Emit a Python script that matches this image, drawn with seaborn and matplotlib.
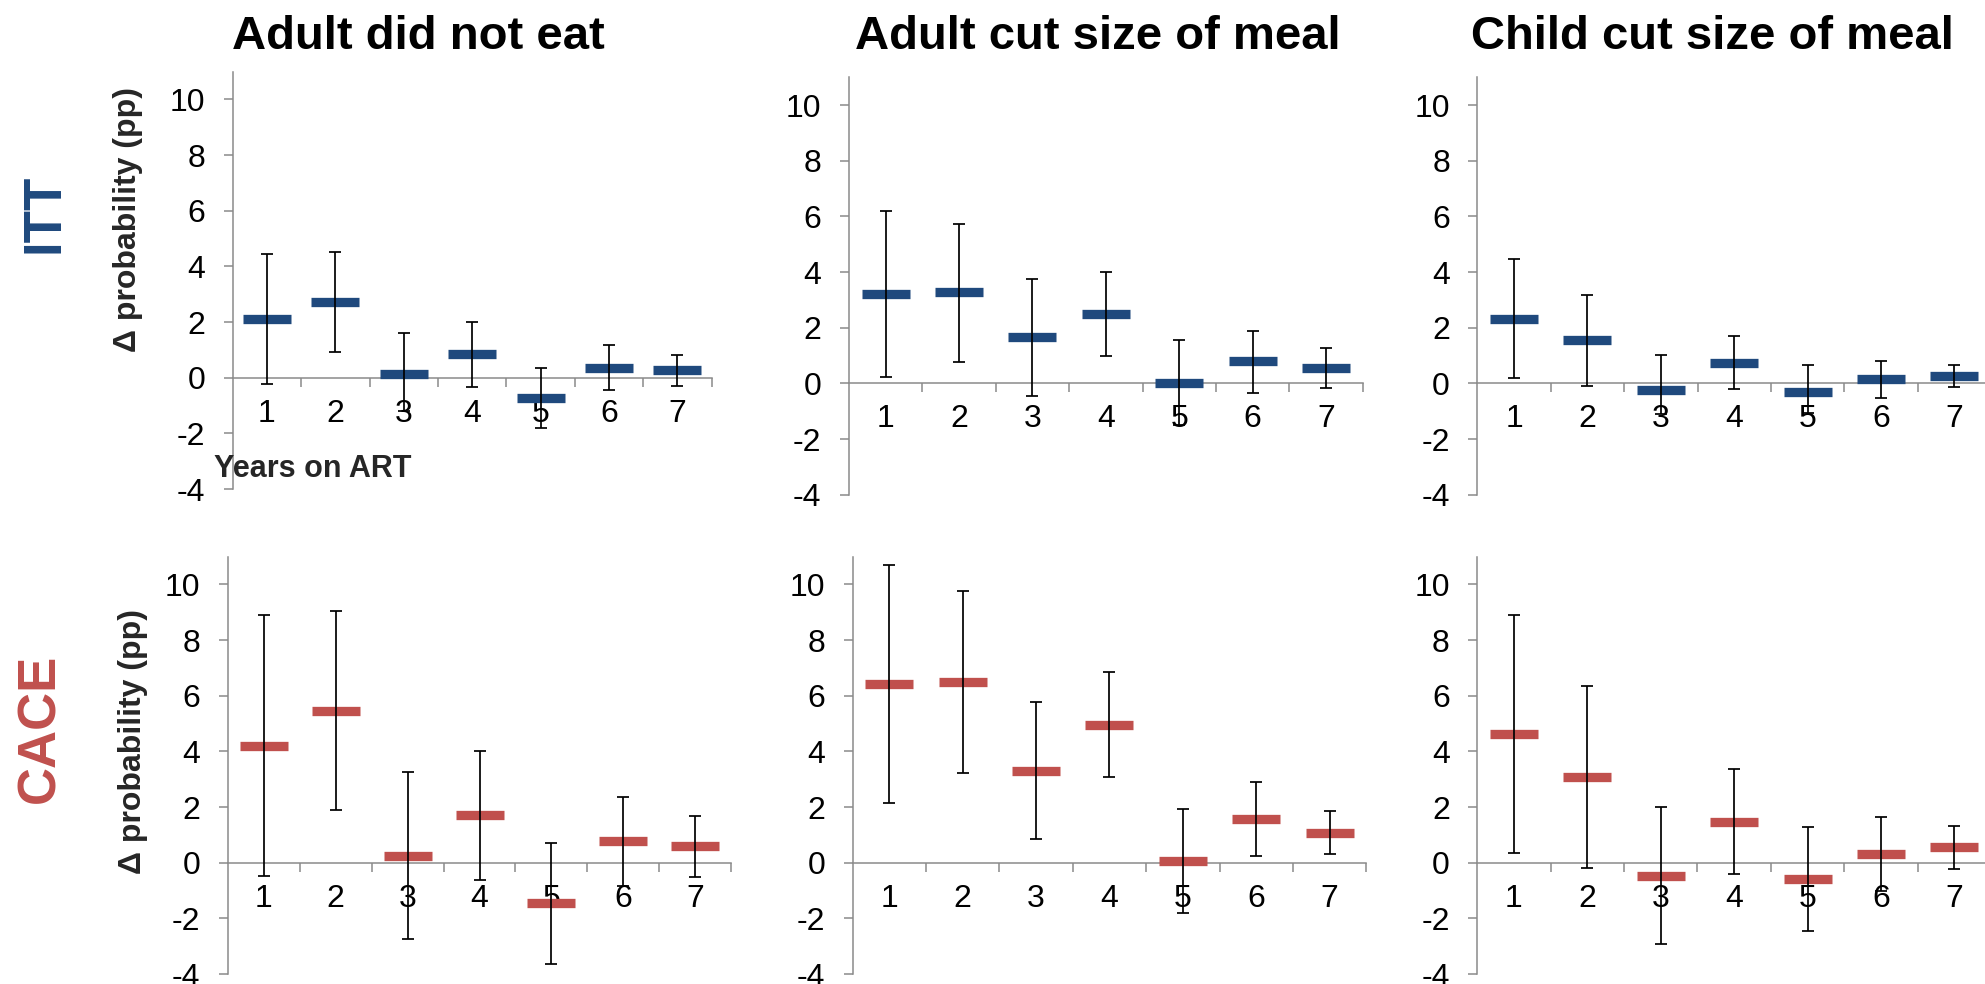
import numpy as np
import pandas as pd
import matplotlib
matplotlib.use("Agg")
import matplotlib.pyplot as plt
import seaborn as sns

# ---------------------------------------------------------------- data
years = [1, 2, 3, 4, 5, 6, 7]
outcomes = ["Adult did not eat", "Adult cut size of meal", "Child cut size of meal"]
estimators = ["ITT", "CACE"]
yticks = [-4, -2, 0, 2, 4, 6, 8, 10]

# ITT estimates (percentage points) with 95% CI bounds
itt_not_eat_mean = [2.12, 2.73, 0.14, 0.86, -0.72, 0.36, 0.29]
itt_not_eat_lo = [-0.24, 0.93, -1.20, -0.32, -1.80, -0.44, -0.31]
itt_not_eat_hi = [4.46, 4.51, 1.62, 1.99, 0.36, 1.16, 0.81]

itt_adult_cut_mean = [3.21, 3.28, 1.68, 2.50, 0.02, 0.81, 0.57]
itt_adult_cut_lo = [0.23, 0.77, -0.44, 1.00, -1.50, -0.35, -0.16]
itt_adult_cut_hi = [6.20, 5.72, 3.75, 4.00, 1.57, 1.89, 1.26]

itt_child_cut_mean = [2.32, 1.56, -0.23, 0.74, -0.30, 0.17, 0.28]
itt_child_cut_lo = [0.18, -0.10, -1.10, -0.22, -1.05, -0.51, -0.12]
itt_child_cut_hi = [4.47, 3.17, 1.02, 1.69, 0.66, 0.81, 0.66]

# CACE estimates (percentage points) with 95% CI bounds
cace_not_eat_mean = [4.20, 5.46, 0.25, 1.71, -1.45, 0.77, 0.59]
cace_not_eat_lo = [-0.47, 1.90, -2.74, -0.61, -3.65, -0.83, -0.53]
cace_not_eat_hi = [8.90, 9.03, 3.26, 4.01, 0.72, 2.35, 1.69]

cace_adult_cut_mean = [6.42, 6.50, 3.30, 4.95, 0.07, 1.56, 1.08]
cace_adult_cut_lo = [2.14, 3.23, 0.84, 3.09, -1.82, 0.24, 0.30]
cace_adult_cut_hi = [10.70, 9.76, 5.77, 6.85, 1.93, 2.90, 1.87]

cace_child_cut_mean = [4.62, 3.08, -0.48, 1.46, -0.59, 0.31, 0.56]
cace_child_cut_lo = [0.36, -0.20, -2.93, -0.42, -2.44, -1.00, -0.24]
cace_child_cut_hi = [8.90, 6.35, 2.01, 3.37, 1.28, 1.65, 1.32]

panels = {
    ("ITT", 0): (itt_not_eat_mean, itt_not_eat_lo, itt_not_eat_hi),
    ("ITT", 1): (itt_adult_cut_mean, itt_adult_cut_lo, itt_adult_cut_hi),
    ("ITT", 2): (itt_child_cut_mean, itt_child_cut_lo, itt_child_cut_hi),
    ("CACE", 0): (cace_not_eat_mean, cace_not_eat_lo, cace_not_eat_hi),
    ("CACE", 1): (cace_adult_cut_mean, cace_adult_cut_lo, cace_adult_cut_hi),
    ("CACE", 2): (cace_child_cut_mean, cace_child_cut_lo, cace_child_cut_hi),
}

# ---------------------------------------------------------------- style
sns.set_theme(style="white")
plt.rcParams["font.family"] = ["Liberation Sans", "DejaVu Sans"]
plt.rcParams["axes.unicode_minus"] = False

BLUE = "#1F497D"
RED = "#C0504D"
GREY = "#8A8A8A"
colors = {"ITT": BLUE, "CACE": RED}
TICK_SIZE = 23

W, H = 1985, 984
fig = plt.figure(figsize=(W / 100, H / 100), dpi=100)


def add_axes_px(x0, x1, top, bottom):
    return fig.add_axes([x0 / W, 1 - bottom / H, (x1 - x0) / W, (bottom - top) / H])


# axes boxes in pixels: (left, right, top, bottom)
boxes = {
    ("ITT", 0): (232.7, 711.6, 71.6, 489.0),
    ("ITT", 1): (848.9, 1362.7, 77.2, 494.7),
    ("ITT", 2): (1477.3, 1991.1, 77.2, 494.7),
    ("CACE", 0): (227.7, 731.3, 556.5, 974.1),
    ("CACE", 1): (852.5, 1366.3, 556.5, 974.1),
    ("CACE", 2): (1477.2, 1991.0, 556.5, 974.1),
}

for key, (mean, lo, hi) in panels.items():
    est, col = key
    ax = add_axes_px(*boxes[key])
    ax.patch.set_alpha(0)
    df = pd.DataFrame({"year": years, "mean": mean, "lo": lo, "hi": hi})

    # point estimates as thick horizontal dashes
    sns.scatterplot(data=df, x="year", y="mean", marker="_", s=1194,
                    linewidth=6.7, color=colors[est], ax=ax, zorder=3,
                    legend=False)
    # confidence intervals
    ax.errorbar(df["year"], df["mean"],
                yerr=[df["mean"] - df["lo"], df["hi"] - df["mean"]],
                fmt="none", ecolor="black", elinewidth=1.25, capsize=4.3,
                capthick=1.25, zorder=4, clip_on=False)

    ax.set_xlim(0.5, 7.5)
    ax.set_ylim(-4, 11)
    ax.set_xlabel("")
    ax.set_ylabel("")
    for s in ["top", "right"]:
        ax.spines[s].set_visible(False)
    ax.spines["bottom"].set_position(("data", 0))
    for s in ["left", "bottom"]:
        ax.spines[s].set_color(GREY)
        ax.spines[s].set_linewidth(1.1)

    ax.set_yticks(yticks)
    ax.set_yticklabels([str(t) for t in yticks])
    ax.set_xticks(np.arange(1.5, 8.0, 1.0))
    ax.set_xticklabels([])
    ax.set_xticks(years, minor=True)
    ax.set_xticklabels([str(y) for y in years], minor=True)

    ax.tick_params(axis="x", which="major", bottom=True, direction="out",
                   length=6.7, width=1.1, color=GREY)
    ax.tick_params(axis="x", which="minor", bottom=True, length=0, pad=15,
                   labelsize=TICK_SIZE, labelcolor="black")
    ax.tick_params(axis="y", which="major", left=True, direction="out",
                   length=6.7, width=1.1, color=GREY, pad=13,
                   labelsize=TICK_SIZE, labelcolor="black")
    ax.grid(False)

# column titles
for title, cx in zip(outcomes, [418, 1098, 1712]):
    fig.text(cx / W, 1 - 49.3 / H, title, ha="center", va="baseline",
             fontsize=34, fontweight="bold", color="black")

# y-axis labels
fig.text(128 / W, 1 - 219 / H, "Δ probability (pp)", rotation=90,
         ha="center", va="center", fontsize=23, fontweight="bold")
fig.text(133 / W, 1 - 742 / H, "Δ probability (pp)", rotation=90,
         ha="center", va="center", fontsize=23, fontweight="bold")

# row labels
fig.text(44 / W, 1 - 213 / H, estimators[0], rotation=90, ha="center",
         va="center", fontsize=38, fontweight="bold", color=BLUE)
fig.text(40 / W, 1 - 728 / H, estimators[1], rotation=90, ha="center",
         va="center", fontsize=38, fontweight="bold", color=RED)

# x-axis caption
fig.text(214 / W, 1 - 469 / H, "Years on ART", ha="left", va="center",
         fontsize=22, fontweight="bold")

fig.savefig("out.png", dpi=100)
